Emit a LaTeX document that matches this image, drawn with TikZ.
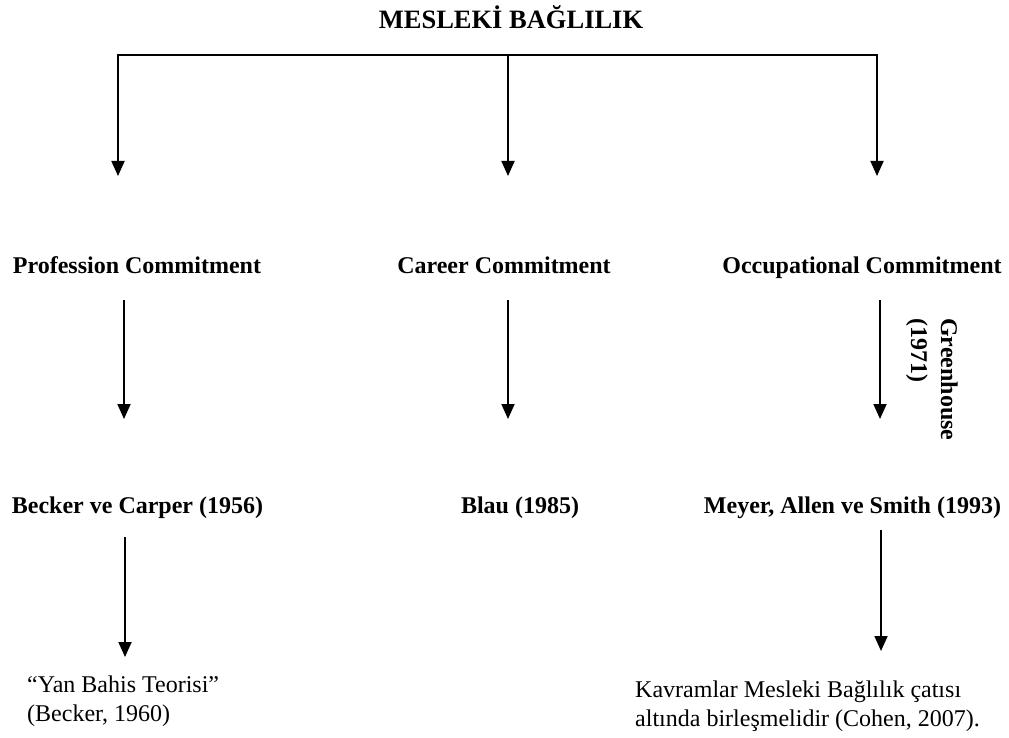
\documentclass[tikz,border=0pt]{standalone}
\usepackage{fontspec}
\setmainfont{Liberation Serif}
\usetikzlibrary{arrows.meta}
\begin{document}
\begin{tikzpicture}[x=1pt,y=-1pt,
  conn/.style={line width=1.8pt},
  arr/.style={line width=1.8pt,-{Triangle[width=13pt,length=15pt]}},
  head/.style={inner sep=0pt,anchor=base,font=\fontsize{24}{28}\selectfont\bfseries},
  titlebox/.style={inner sep=0pt,anchor=base,font=\fontsize{26.5}{30}\selectfont\bfseries},
  note/.style={inner sep=0pt,anchor=north west,align=left,font=\fontsize{24}{29}\selectfont}]
\useasboundingbox (0,0) rectangle (1009,738);
\fill[white] (0,0) rectangle (1009,738);
% title
\node[titlebox] (title) at (511,29) {MESLEKİ BAĞLILIK};
% level 2
\node[head] (prof) at (137,273) {Profession Commitment};
\node[head] (career) at (504,273) {Career Commitment};
\node[head] (occ) at (862,273) {Occupational Commitment};
% level 3
\node[head] (becker) at (137.5,513) {Becker ve Carper (1956)};
\node[head] (blau) at (520,513) {Blau (1985)};
\node[head] (meyer) at (852.5,513) {Meyer, Allen ve Smith (1993)};
% bottom notes
\node[note] (yan) at (27,676) {“Yan Bahis Teorisi”\\(Becker, 1960)};
\node[note] (kav) at (635,681) {Kavramlar Mesleki Bağlılık çatısı\\altında birleşmelidir (Cohen, 2007).};
% rotated label
\node[inner sep=0pt,anchor=north west,rotate=-90,align=left,
      font=\fontsize{24}{30}\selectfont\bfseries] (green) at (958,318) {Greenhouse\\(1971)};
% coordinates of connectors
\coordinate (hl) at (118,55);
\coordinate (hm) at (508,55);
\coordinate (hr) at (877,55);
\coordinate (t1) at (118,176);
\coordinate (t2) at (508,176);
\coordinate (t3) at (877,176);
\coordinate (s1) at (124,300);
\coordinate (e1) at (124,419);
\coordinate (s2) at (508,300);
\coordinate (e2) at (508,419);
\coordinate (s3) at (880,300);
\coordinate (e3) at (880,419);
\coordinate (s4) at (125,537);
\coordinate (e4) at (125,657);
\coordinate (s5) at (881,530);
\coordinate (e5) at (881,651);
% connectors
\draw[conn] ([xshift=-0.9pt]hl) -- ([xshift=0.9pt]hr);
\draw[arr] (hl) -- (t1);
\draw[arr] (hm) -- (t2);
\draw[arr] (hr) -- (t3);
\draw[arr] (s1) -- (e1);
\draw[arr] (s2) -- (e2);
\draw[arr] (s3) -- (e3);
\draw[arr] (s4) -- (e4);
\draw[arr] (s5) -- (e5);
\end{tikzpicture}
\end{document}
